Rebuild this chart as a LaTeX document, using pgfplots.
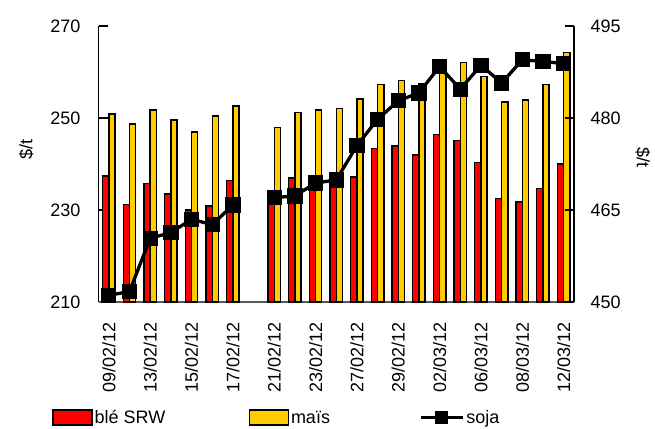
\documentclass[border=0pt]{standalone}
\usepackage{fontspec}
\setmainfont{Liberation Sans}
\usepackage{pgfplots}
\pgfplotsset{compat=1.18}
\usepackage{pgfplotstable}
\definecolor{ble}{RGB}{255,0,0}
\definecolor{mais}{RGB}{255,204,0}
\pgfplotsset{
  boxlegend/.style={legend image code/.code={\draw[##1,/tikz/.cd] (0pt,-7.5pt) rectangle (39pt,7.5pt);}},
  sojalegend/.style={legend image code/.code={\draw[mark repeat=2,mark phase=2,##1] plot coordinates {(0pt,0pt) (21pt,0pt) (42pt,0pt)};}},
}

\pgfplotstableread{
x ble mais soja
0 237.4 250.9 451.1
1 231.2 248.7 451.7
2 235.7 251.7 460.4
3 233.5 249.6 461.3
4 230.0 247.0 463.5
5 230.9 250.4 462.6
6 236.4 252.6 465.8
7 nan nan nan
8 232.5 247.9 467.0
9 237.0 251.2 467.3
10 234.7 251.7 469.4
11 235.3 252.1 469.9
12 237.2 254.1 475.5
13 243.4 257.3 479.8
14 243.9 258.1 482.8
15 242.0 257.4 484.1
16 246.4 260.0 488.4
17 245.1 262.1 484.7
18 240.3 259.0 488.6
19 232.5 253.5 485.7
20 231.7 253.9 489.5
21 234.7 257.3 489.2
22 240.0 264.3 488.9
}\data

\begin{document}
\begin{tikzpicture}[x=1pt,y=1pt]
\path[use as bounding box] (0,0) rectangle (655,428);
\begin{axis}[
  at={(98.5pt,126pt)}, anchor=south west,
  scale only axis, width=475.5pt, height=276pt,
  xmin=-0.5, xmax=22.5, ymin=210, ymax=270,
  ytick={210,230,250,270},
  xtick={0,2,...,22},
  xticklabels={09/02/12,13/02/12,15/02/12,17/02/12,21/02/12,23/02/12,27/02/12,29/02/12,02/03/12,06/03/12,08/03/12,12/03/12},
  axis x line*=bottom, axis y line*=left,
  x axis line style={draw=gray!70!black, line width=1.3pt},
  y axis line style={line width=1.2pt},
  tick align=inside, major tick length=9pt,
  xtick style={draw=none},
  ytick style={black, line width=1.1pt},
  /pgf/number format/assume math mode=true,
  tick label style={font=\fontsize{18}{21}\selectfont},
  yticklabel style={xshift=-14.5pt},
  xticklabel style={yshift=-17pt, rotate=90, anchor=east},
  ylabel={\$/t},
  ylabel style={at={(axis description cs:-0.152,0.554)}, anchor=center, font=\fontsize{18}{21}\selectfont},
  legend columns=3,
  legend cell align=left,
  legend style={draw=none, fill=none, column sep=0pt, inner sep=0pt,
    at={(axis description cs:-0.0978,-0.419)}, anchor=west,
    font=\fontsize{18}{21}\selectfont},
]
\addplot[ybar, bar width=6.2pt, bar shift=-3.1pt, fill=ble, draw=black, line width=1.4pt, boxlegend]
  table[x=x,y=ble]{\data};
\addlegendentry{\makebox[152pt][l]{blé SRW}}
\addplot[ybar, bar width=6.2pt, bar shift=3.1pt, fill=mais, draw=black, line width=1.4pt, boxlegend]
  table[x=x,y=mais]{\data};
\addlegendentry{\makebox[126pt][l]{maïs}}
\addlegendimage{black, line width=3.3pt, mark=square*, mark size=5pt, sojalegend}
\addlegendentry{soja}
\end{axis}
\begin{axis}[
  at={(98.5pt,126pt)}, anchor=south west,
  scale only axis, width=475.5pt, height=276pt,
  xmin=-0.5, xmax=22.5, ymin=450, ymax=495,
  ytick={450,465,480,495},
  axis y line*=right, axis x line=none,
  y axis line style={line width=1.2pt},
  tick align=inside, major tick length=9pt,
  ytick style={black, line width=1.1pt},
  /pgf/number format/assume math mode=true,
  tick label style={font=\fontsize{18}{21}\selectfont},
  yticklabel style={xshift=13pt},
  ylabel={\$/t},
  ylabel style={at={(axis description cs:1.145,0.525)}, anchor=center, rotate=180, font=\fontsize{18}{21}\selectfont},
  unbounded coords=jump, clip=false,
]
\addplot[black, line width=3.3pt, mark=square*, mark size=6pt, mark options={solid}]
  table[x=x,y=soja]{\data};
\end{axis}
\end{tikzpicture}
\end{document}
